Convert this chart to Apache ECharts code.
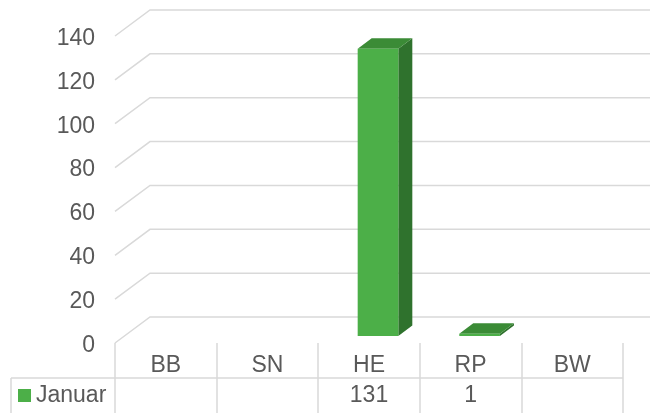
<!DOCTYPE html>
<html>
<head>
<meta charset="utf-8">
<script src="https://cdn.jsdelivr.net/npm/echarts@6/dist/echarts.min.js"></script>
<style>html,body{margin:0;padding:0;background:#fff}#c{width:650px;height:413px}</style>
</head>
<body>
<div id="c"></div>
<script>
var categories = ['BB', 'SN', 'HE', 'RP', 'BW'];
var seriesName = 'Januar';
var januar = [null, null, 131, 1, null];
var yTicks = [0, 20, 40, 60, 80, 100, 120, 140];

var FONT = 'Liberation Sans, Arial, sans-serif';
var FS = 23;
var TXT = '#595959';
var GRID = '#d9d9d9';
var C_FRONT = '#4CAF48', C_SIDE = '#2F722D', C_TOP = '#3B8B36';
var DEPTH_X = 35, DEPTH_Y = -26;      // wall depth
var BAR_OX = 9, BAR_OY = -7;          // bar front offset into depth
var BAR_DX = 14, BAR_DY = -10.5;      // bar depth
var BAR_W = 0.4;                      // fraction of band

var chart = echarts.init(document.getElementById('c'), null, {renderer: 'canvas'});

chart.setOption({
  animation: false,
  grid: {left: 115, right: 27, top: 36, bottom: 70, containLabel: false},
  legend: {
    data: [seriesName], left: 18, top: 384, icon: 'rect', itemWidth: 13, itemHeight: 13,
    itemGap: 5, textStyle: {color: TXT, fontSize: FS, fontFamily: FONT}, padding: 0
  },
  xAxis: {
    type: 'category', data: categories,
    axisLine: {show: false},
    axisTick: {show: true, length: 70, interval: 0, lineStyle: {color: GRID, width: 1.5}},
    axisLabel: {color: TXT, fontSize: FS, fontFamily: FONT, margin: 11, interval: 0},
    splitLine: {show: false}
  },
  yAxis: {
    type: 'value', min: 0, max: 140, interval: 20,
    axisLine: {show: false}, axisTick: {show: false}, splitLine: {show: false},
    axisLabel: {
      color: TXT, fontSize: FS, fontFamily: FONT, margin: 20,
      formatter: '{a|{value}}',
      rich: {a: {color: TXT, fontSize: FS, fontFamily: FONT, padding: [5, 0, 0, 0]}}
    }
  },
  series: [
    {
      type: 'custom', name: 'gridlines', silent: true, z: 1,
      data: yTicks.map(function (v) { return [0, v]; }),
      renderItem: function (params, api) {
        var cs = params.coordSys;
        var p = api.coord([0, api.value(1)]);
        var x0 = cs.x, y = p[1];
        return {
          type: 'polyline',
          shape: {points: [[x0, y], [x0 + DEPTH_X, y + DEPTH_Y], [api.getWidth(), y + DEPTH_Y]]},
          style: {stroke: GRID, lineWidth: 1.5, fill: null}
        };
      }
    },
    {
      type: 'custom', name: 'frame', silent: true, z: 1,
      data: [[0, 0]],
      renderItem: function (params, api) {
        var cs = params.coordSys;
        var y0 = api.coord([0, 0])[1];
        var yt = y0 + 35;
        var xr = cs.x + cs.width;
        return {
          type: 'group',
          children: [
            {type: 'line', shape: {x1: 11, y1: yt, x2: xr, y2: yt}, style: {stroke: GRID, lineWidth: 1.5}},
            {type: 'line', shape: {x1: 11, y1: yt, x2: 11, y2: api.getHeight()}, style: {stroke: GRID, lineWidth: 1.5}}
          ]
        };
      }
    },
    {
      type: 'custom', name: seriesName, z: 3,
      itemStyle: {color: C_FRONT},
      data: januar.map(function (v, i) { return [i, v == null ? '-' : v]; }),
      renderItem: function (params, api) {
        var v = api.value(1);
        if (v == null || isNaN(v)) return;
        var i = api.value(0);
        var base = api.coord([i, 0]);
        var top = api.coord([i, v]);
        var band = api.size([1, 0])[0];
        var w = band * BAR_W;
        var xl = base[0] + BAR_OX - w / 2, xr = xl + w;
        var yb = base[1] + BAR_OY, yt = top[1] + BAR_OY;
        return {
          type: 'group',
          children: [
            {type: 'polygon', shape: {points: [[xr, yt], [xr + BAR_DX, yt + BAR_DY], [xr + BAR_DX, yb + BAR_DY], [xr, yb]]}, style: {fill: C_SIDE}},
            {type: 'polygon', shape: {points: [[xl, yt], [xl + BAR_DX, yt + BAR_DY], [xr + BAR_DX, yt + BAR_DY], [xr, yt]]}, style: {fill: C_TOP}},
            {type: 'rect', shape: {x: xl, y: yt, width: w, height: yb - yt}, style: {fill: C_FRONT}}
          ]
        };
      }
    },
    {
      type: 'custom', name: 'table', silent: true, z: 3,
      data: januar.map(function (v, i) { return [i, v == null ? '-' : v]; }),
      renderItem: function (params, api) {
        var v = api.value(1);
        if (v == null || isNaN(v)) return;
        var p = api.coord([api.value(0), 0]);
        return {
          type: 'text',
          style: {text: String(v), x: p[0], y: p[1] + 53, align: 'center', verticalAlign: 'middle',
                  fill: TXT, fontSize: FS, fontFamily: FONT}
        };
      }
    }
  ]
});
</script>
</body>
</html>
